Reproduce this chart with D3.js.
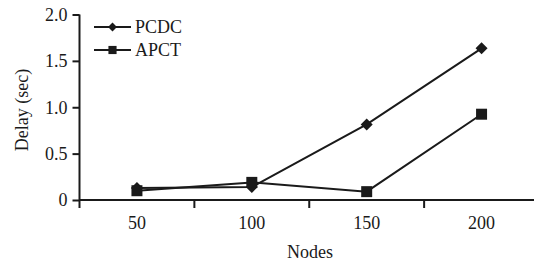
<!DOCTYPE html>
<html>
<head>
<meta charset="utf-8">
<script src="https://cdn.jsdelivr.net/npm/d3@7"></script>
<style>
  body { margin: 0; background: #fff; }
  svg text { font-family: "Liberation Serif", "Times New Roman", serif; fill: #1a1a1a; }
</style>
</head>
<body>
<div id="chart"></div>
<script>
// values
const nodes = ["50", "100", "150", "200"];
const pcdc = [0.13, 0.14, 0.815, 1.635];
const apct = [0.10, 0.19, 0.09, 0.925];
const yTicks = [0, 0.5, 1.0, 1.5, 2.0];

const width = 534, height = 262;
const ink = "#1a1a1a";

const svg = d3.select("#chart").append("svg")
  .attr("width", width)
  .attr("height", height);

// band per node group, ticks sit between groups
const x = d3.scaleBand().domain(nodes).range([79.5, 539]);
const y = d3.scaleLinear().domain([0, 2]).range([200, 14.5]);

// x axis
const xAxis = svg.append("g").attr("transform", "translate(0,200)");
xAxis.append("line")
  .attr("x1", 79.5).attr("x2", 539)
  .attr("stroke", ink).attr("stroke-width", 2);
xAxis.selectAll("line.tk")
  .data(nodes)
  .enter().append("line")
  .attr("class", "tk")
  .attr("x1", d => x(d)).attr("x2", d => x(d))
  .attr("y1", 0).attr("y2", 8)
  .attr("stroke", ink).attr("stroke-width", 2);
xAxis.selectAll("text")
  .data(nodes)
  .enter().append("text")
  .attr("x", d => x(d) + x.bandwidth() / 2)
  .attr("y", 29)
  .attr("text-anchor", "middle")
  .style("font-size", "18px")
  .text(d => d);

// y axis
const yAxis = svg.append("g").attr("transform", "translate(79.5,0)")
  .call(d3.axisLeft(y).tickValues(yTicks).tickSize(7).tickPadding(5)
    .tickFormat(d => d === 0 ? "0" : d3.format(".1f")(d)));
yAxis.select(".domain").attr("stroke", ink).attr("stroke-width", 2)
  .attr("d", "M0," + y(2) + "V" + y(0));
yAxis.selectAll(".tick line").attr("stroke", ink).attr("stroke-width", 2);
yAxis.selectAll(".tick text")
  .attr("fill", ink)
  .style("font-size", "18px")
  .style("font-family", '"Liberation Serif", serif');

// axis titles
svg.append("text")
  .attr("transform", "translate(28,110) rotate(-90)")
  .attr("text-anchor", "middle")
  .style("font-size", "18px")
  .text("Delay (sec)");
svg.append("text")
  .attr("x", 310).attr("y", 258)
  .attr("text-anchor", "middle")
  .style("font-size", "18px")
  .text("Nodes");

const cx = d => x(d) + x.bandwidth() / 2;
const line = d3.line().x(d => cx(d.n)).y(d => y(d.v));

// diamond = square turned 45 degrees
const series = [
  { name: "PCDC", values: pcdc, sym: d3.symbolSquare, size: 72, rot: 45 },
  { name: "APCT", values: apct, sym: d3.symbolSquare, size: 121, rot: 0 }
];

series.forEach((s, i) => {
  const pts = nodes.map((n, j) => ({ n: n, v: s.values[j] }));
  svg.append("path")
    .datum(pts)
    .attr("d", line)
    .attr("fill", "none")
    .attr("stroke", ink)
    .attr("stroke-width", 2);
  svg.selectAll("path.m" + i)
    .data(pts)
    .enter().append("path")
    .attr("class", "m" + i)
    .attr("transform", d => "translate(" + cx(d.n) + "," + y(d.v) + ") rotate(" + s.rot + ")")
    .attr("d", d3.symbol().type(s.sym).size(s.size))
    .attr("fill", ink);

  // legend
  const ly = 27 + i * 23;
  svg.append("line")
    .attr("x1", 94).attr("x2", 131).attr("y1", ly).attr("y2", ly)
    .attr("stroke", ink).attr("stroke-width", 2);
  svg.append("path")
    .attr("transform", "translate(112.5," + ly + ") rotate(" + s.rot + ")")
    .attr("d", d3.symbol().type(s.sym).size(s.size * 0.55))
    .attr("fill", ink);
  svg.append("text")
    .attr("x", 135).attr("y", ly + 6)
    .style("font-size", "18px")
    .text(s.name);
});
</script>
</body>
</html>
